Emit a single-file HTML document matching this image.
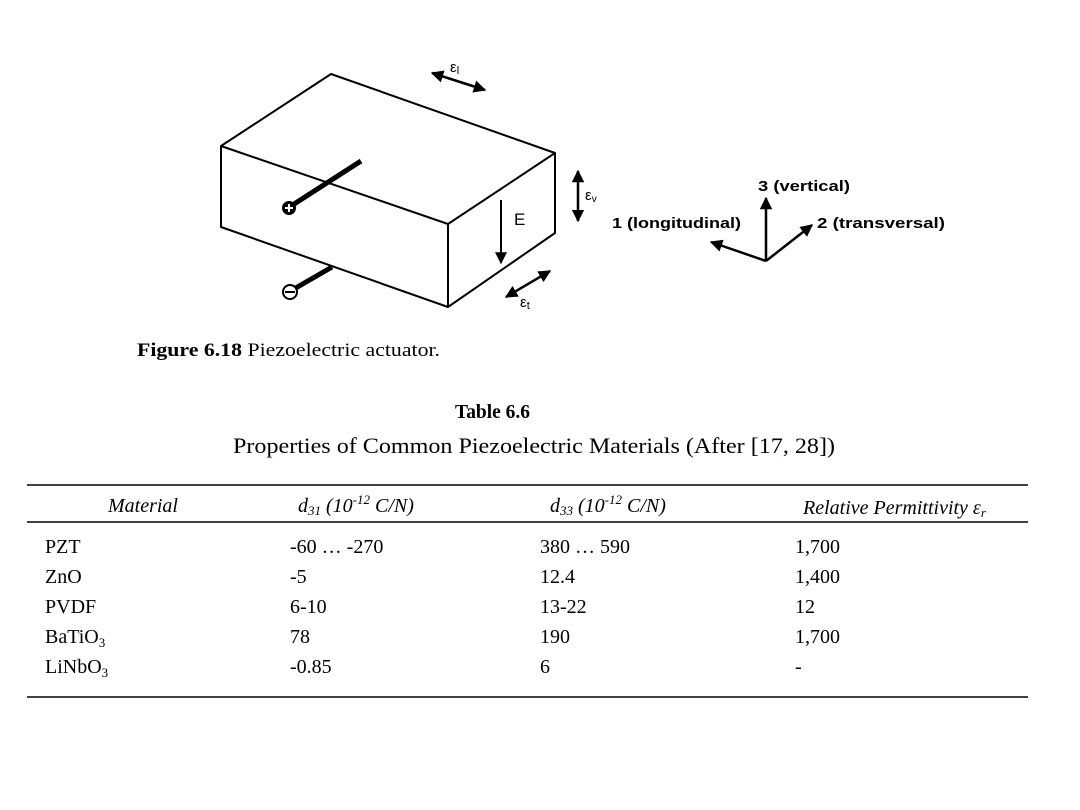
<!DOCTYPE html>
<html><head><meta charset="utf-8"><style>
html,body{margin:0;padding:0;background:#fff;}
svg{display:block;}
.s{font-family:"Liberation Sans",Arial,sans-serif;font-weight:bold;}
.t{font-family:"Liberation Serif","Times New Roman",serif;}
</style></head><body>
<svg width="1080" height="810" viewBox="0 0 1080 810" xmlns="http://www.w3.org/2000/svg">
<defs>
<marker id="a" viewBox="0 0 10 10" refX="9" refY="5" markerWidth="5" markerHeight="5" orient="auto-start-reverse" markerUnits="strokeWidth"><path d="M0,0L10,5L0,10z" fill="#000"/></marker>
<marker id="b" viewBox="0 0 10 10" refX="9" refY="5" markerWidth="7" markerHeight="6" orient="auto-start-reverse" markerUnits="strokeWidth"><path d="M0,0L10,5L0,10z" fill="#000"/></marker>
</defs>
<g stroke="#000" stroke-width="2" fill="none" stroke-linejoin="round">
<path d="M221,146L331,74L555,153L448,224L221,146L221,227L448,307L448,224M448,307L555,233L555,153"/>
</g>
<line x1="361" y1="161" x2="291" y2="206" stroke="#000" stroke-width="5"/>
<circle cx="289" cy="208" r="7" fill="#000"/>
<path d="M285,208h8M289,204v8" stroke="#fff" stroke-width="2"/>
<line x1="332" y1="267" x2="294" y2="289" stroke="#000" stroke-width="5"/>
<circle cx="290" cy="292" r="7" fill="#fff" stroke="#000" stroke-width="2"/>
<line x1="285" y1="292" x2="295" y2="292" stroke="#000" stroke-width="2"/>
<line x1="501" y1="200" x2="501" y2="263" stroke="#000" stroke-width="2" marker-end="url(#b)"/>
<text x="514" y="225" class="s" font-size="17" style="font-weight:normal">E</text>
<line x1="578" y1="171" x2="578" y2="221" stroke="#000" stroke-width="2.5" marker-start="url(#a)" marker-end="url(#a)"/>
<text x="585" y="200" class="s" font-size="15" style="font-weight:normal">ε<tspan font-size="10" dy="2">v</tspan></text>
<line x1="432" y1="73" x2="485" y2="90" stroke="#000" stroke-width="2.5" marker-start="url(#a)" marker-end="url(#a)"/>
<text x="450" y="72" class="s" font-size="15" style="font-weight:normal">ε<tspan font-size="11" dy="2">l</tspan></text>
<line x1="506" y1="297" x2="550" y2="271" stroke="#000" stroke-width="2.5" marker-start="url(#a)" marker-end="url(#a)"/>
<text x="520" y="307" class="s" font-size="15" style="font-weight:normal">ε<tspan font-size="11" dy="2">t</tspan></text>
<g stroke="#000" stroke-width="2.5">
<line x1="766" y1="261" x2="766" y2="198" marker-end="url(#a)"/>
<line x1="766" y1="261" x2="711" y2="242" marker-end="url(#a)"/>
<line x1="766" y1="261" x2="812" y2="225" marker-end="url(#a)"/>
</g>
<text x="758" y="191" class="s" font-size="15" textLength="92" lengthAdjust="spacingAndGlyphs">3 (vertical)</text>
<text x="612" y="228" class="s" font-size="15" textLength="129" lengthAdjust="spacingAndGlyphs">1 (longitudinal)</text>
<text x="817" y="228" class="s" font-size="15" textLength="128" lengthAdjust="spacingAndGlyphs">2 (transversal)</text>
<text x="137" y="356" class="t" font-size="19" textLength="303" lengthAdjust="spacingAndGlyphs"><tspan font-weight="bold">Figure 6.18</tspan> Piezoelectric actuator.</text>
<text x="455" y="418" class="t" font-size="20" font-weight="bold" textLength="75" lengthAdjust="spacingAndGlyphs">Table 6.6</text>
<text x="233" y="453" class="t" font-size="22" textLength="602" lengthAdjust="spacingAndGlyphs">Properties of Common Piezoelectric Materials (After [17, 28])</text>
<g stroke="#000" stroke-width="1.5">
<line x1="27" y1="485" x2="1028" y2="485"/>
<line x1="27" y1="522" x2="1028" y2="522"/>
<line x1="27" y1="697" x2="1028" y2="697"/>
</g>
<g class="t" font-size="20" font-style="italic">
<text x="108" y="512">Material</text>
<text x="298" y="512">d<tspan font-size="13" dy="3">31</tspan><tspan dy="-3"> (10</tspan><tspan font-size="13" dy="-8">-12</tspan><tspan dy="8"> C/N)</tspan></text>
<text x="550" y="512">d<tspan font-size="13" dy="3">33</tspan><tspan dy="-3"> (10</tspan><tspan font-size="13" dy="-8">-12</tspan><tspan dy="8"> C/N)</tspan></text>
<text x="803" y="514">Relative Permittivity ε<tspan font-size="13" dy="3">r</tspan></text>
</g>
<g class="t" font-size="20">
<text x="45" y="553">PZT</text><text x="290" y="553">-60 … -270</text><text x="540" y="553">380 … 590</text><text x="795" y="553">1,700</text>
<text x="45" y="583">ZnO</text><text x="290" y="583">-5</text><text x="540" y="583">12.4</text><text x="795" y="583">1,400</text>
<text x="45" y="613">PVDF</text><text x="290" y="613">6-10</text><text x="540" y="613">13-22</text><text x="795" y="613">12</text>
<text x="45" y="643">BaTiO<tspan font-size="13" dy="4">3</tspan></text><text x="290" y="643">78</text><text x="540" y="643">190</text><text x="795" y="643">1,700</text>
<text x="45" y="673">LiNbO<tspan font-size="13" dy="4">3</tspan></text><text x="290" y="673">-0.85</text><text x="540" y="673">6</text><text x="795" y="673">-</text>
</g>
</svg>
</body></html>
